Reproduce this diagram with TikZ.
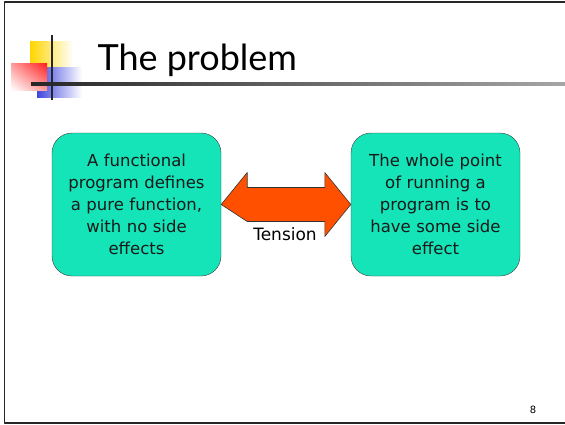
\documentclass[tikz,border=0pt]{standalone}
\usepackage{fontspec}
\setmainfont{DejaVu Sans}
\newfontfamily\titlefont{Lato}
\usetikzlibrary{calc,shadings}
\definecolor{boxteal}{RGB}{20,228,184}
\definecolor{arroworange}{RGB}{255,80,0}
\definecolor{decoyellow}{RGB}{255,214,0}
\definecolor{decoblue}{RGB}{64,72,222}
\definecolor{decored}{RGB}{255,30,30}
\begin{document}
\begin{tikzpicture}[x=1pt,y=-1pt,line join=round,
	idea/.style={draw=black!75,fill=boxteal,rounded corners=20pt,minimum width=169pt,minimum height=143pt,
		text width=165pt,align=center,inner sep=0pt,font=\fontsize{16.5}{22}\selectfont,text=black!90},
	bigarrow/.style={draw=black!80,fill=arroworange,line width=.6pt}]
	\useasboundingbox (0,0) rectangle (565,424);
	% slide frame
	\draw[line width=1.5pt,black!85] (565,2)--(4.5,2)--(4.5,423)--(565,423);
	% title decoration
	\shade[left color=decoyellow,middle color=decoyellow,right color=white] (30,41) rectangle (73,67);
	\shade[left color=decoblue,middle color=decoblue,right color=white] (37,67) rectangle (82,97);
	\shade[upper right=decored,upper left=decored!45,lower right=decored!45,lower left=white] (11,63) rectangle (47,90);
	\shade[left color=black!85,right color=black!35] (31,82.5) rectangle (565,85.5);
	\draw[line width=2.5pt,black!85] (52,35)--(52,100);
	\node[anchor=base west,font=\titlefont\fontsize{36}{36}\selectfont] (title) at (94,70) {The problem};
	% the two sides
	\node[idea] (pure) at (136.5,204.5) {A functional\\program defines\\a pure function,\\with no side\\effects};
	\node[idea] (effect) at (435.5,204.5) {The whole point\\of running a\\program is to\\have some side\\effect};
	\draw[bigarrow] (pure.east) -- ++(26,-32) |- ($(effect.west)+(-26,-17)$) -- ++(0,-15) -- (effect.west)
		-- ++(-26,32) -- ++(0,-15) -| ($(pure.east)+(26,17)$) -- cycle;
	\node[font=\fontsize{17}{17}\selectfont] (tension) at (285,234) {Tension};
	\node[font=\fontsize{10}{10}\selectfont] (pagenum) at (533,410) {8};
\end{tikzpicture}
\end{document}
